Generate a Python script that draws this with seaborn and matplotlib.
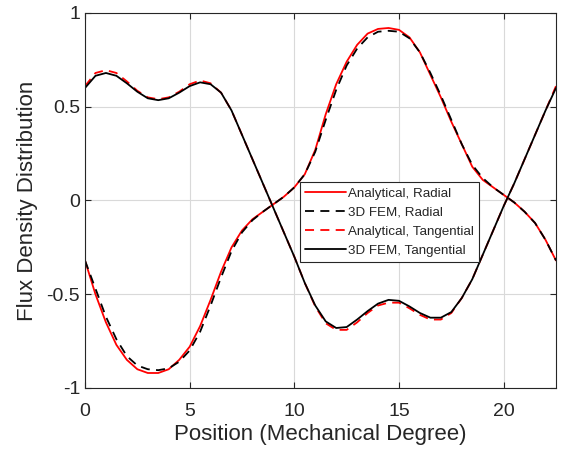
import numpy as np
import pandas as pd
import matplotlib
matplotlib.use("Agg")
import matplotlib.pyplot as plt
import seaborn as sns

# position in mechanical degrees (0.5 deg steps)
position = [i * 0.5 for i in range(46)]

radial_analytical = [
    -0.32, -0.50, -0.65, -0.77, -0.85, -0.90, -0.92, -0.92, -0.90, -0.85,
    -0.78, -0.67, -0.53, -0.38, -0.25, -0.16, -0.10, -0.06, -0.02, 0.02,
    0.07, 0.14, 0.27, 0.46, 0.62, 0.74, 0.83, 0.89, 0.915, 0.92,
    0.91, 0.87, 0.79, 0.67, 0.55, 0.42, 0.30, 0.18, 0.11, 0.07,
    0.03, -0.01, -0.06, -0.12, -0.21, -0.32,
]
radial_fem = [
    -0.32, -0.47, -0.62, -0.74, -0.83, -0.88, -0.90, -0.905, -0.895, -0.86,
    -0.80, -0.70, -0.56, -0.41, -0.27, -0.17, -0.105, -0.06, -0.02, 0.02,
    0.07, 0.14, 0.26, 0.43, 0.59, 0.72, 0.81, 0.87, 0.90, 0.905,
    0.90, 0.865, 0.79, 0.68, 0.56, 0.43, 0.30, 0.19, 0.12, 0.07,
    0.03, -0.01, -0.06, -0.12, -0.21, -0.32,
]
tangential_analytical = [
    0.61, 0.68, 0.695, 0.68, 0.635, 0.585, 0.55, 0.54, 0.55, 0.58,
    0.62, 0.64, 0.625, 0.575, 0.48, 0.35, 0.22, 0.09, -0.04, -0.17,
    -0.30, -0.44, -0.565, -0.655, -0.69, -0.69, -0.65, -0.60, -0.56, -0.545,
    -0.545, -0.575, -0.61, -0.635, -0.635, -0.60, -0.52, -0.42, -0.29, -0.16,
    -0.03, 0.09, 0.22, 0.35, 0.48, 0.61,
]
tangential_fem = [
    0.60, 0.665, 0.68, 0.665, 0.625, 0.58, 0.545, 0.535, 0.545, 0.575,
    0.61, 0.63, 0.62, 0.575, 0.48, 0.35, 0.22, 0.09, -0.04, -0.17,
    -0.30, -0.44, -0.56, -0.645, -0.68, -0.675, -0.635, -0.59, -0.55, -0.53,
    -0.535, -0.565, -0.60, -0.625, -0.625, -0.595, -0.52, -0.42, -0.29, -0.16,
    -0.03, 0.09, 0.22, 0.35, 0.48, 0.60,
]

sns.set_style("white")
plt.rcParams["font.family"] = ["Liberation Sans", "DejaVu Sans"]
txt = "#262626"

fig = plt.figure(figsize=(5.64, 4.57), dpi=100)
ax = fig.add_axes([0.1507, 0.151, 0.8351, 0.8206])

series = [
    ("Analytical, Radial", radial_analytical, "red", "-"),
    ("3D FEM, Radial", radial_fem, "black", (0, (5, 3.5))),
    ("Analytical, Tangential", tangential_analytical, "red", (0, (5, 3.5))),
    ("3D FEM, Tangential", tangential_fem, "black", "-"),
]
for name, vals, color, ls in series:
    df = pd.DataFrame({"x": position, "y": vals})
    sns.lineplot(data=df, x="x", y="y", ax=ax, color=color, linestyle=ls,
                 linewidth=1.3, label=name)

ax.set_xlim(0, 22.5)
ax.set_ylim(-1, 1)
ax.set_xticks([0, 5, 10, 15, 20])
ax.set_yticks([-1, -0.5, 0, 0.5, 1])
ax.set_yticklabels(["-1", "-0.5", "0", "0.5", "1"])
ax.grid(True, color="#d9d9d9", linewidth=0.8)
ax.tick_params(direction="in", length=4, width=0.8, colors="#262626",
               labelsize=14, labelcolor=txt, top=True, right=True,
               bottom=True, left=True)
ax.tick_params(axis="x", pad=11)
for s in ax.spines.values():
    s.set_color("#262626")
    s.set_linewidth(0.8)
    s.set_visible(True)

ax.set_xlabel("Position (Mechanical Degree)", fontsize=16, color=txt, labelpad=3)
ax.set_ylabel("Flux Density Distribution", fontsize=16, color=txt, labelpad=6)

leg = ax.legend(loc="upper left", bbox_to_anchor=(0.456, 0.549), borderaxespad=0,
                fontsize=9.6, handlelength=3.1, handletextpad=0.1,
                labelspacing=0.5, fancybox=False, framealpha=1,
                edgecolor="#262626", borderpad=0.4)
leg.get_frame().set_linewidth(0.8)
for t in leg.get_texts():
    t.set_color(txt)

fig.savefig("out.png", dpi=100)
